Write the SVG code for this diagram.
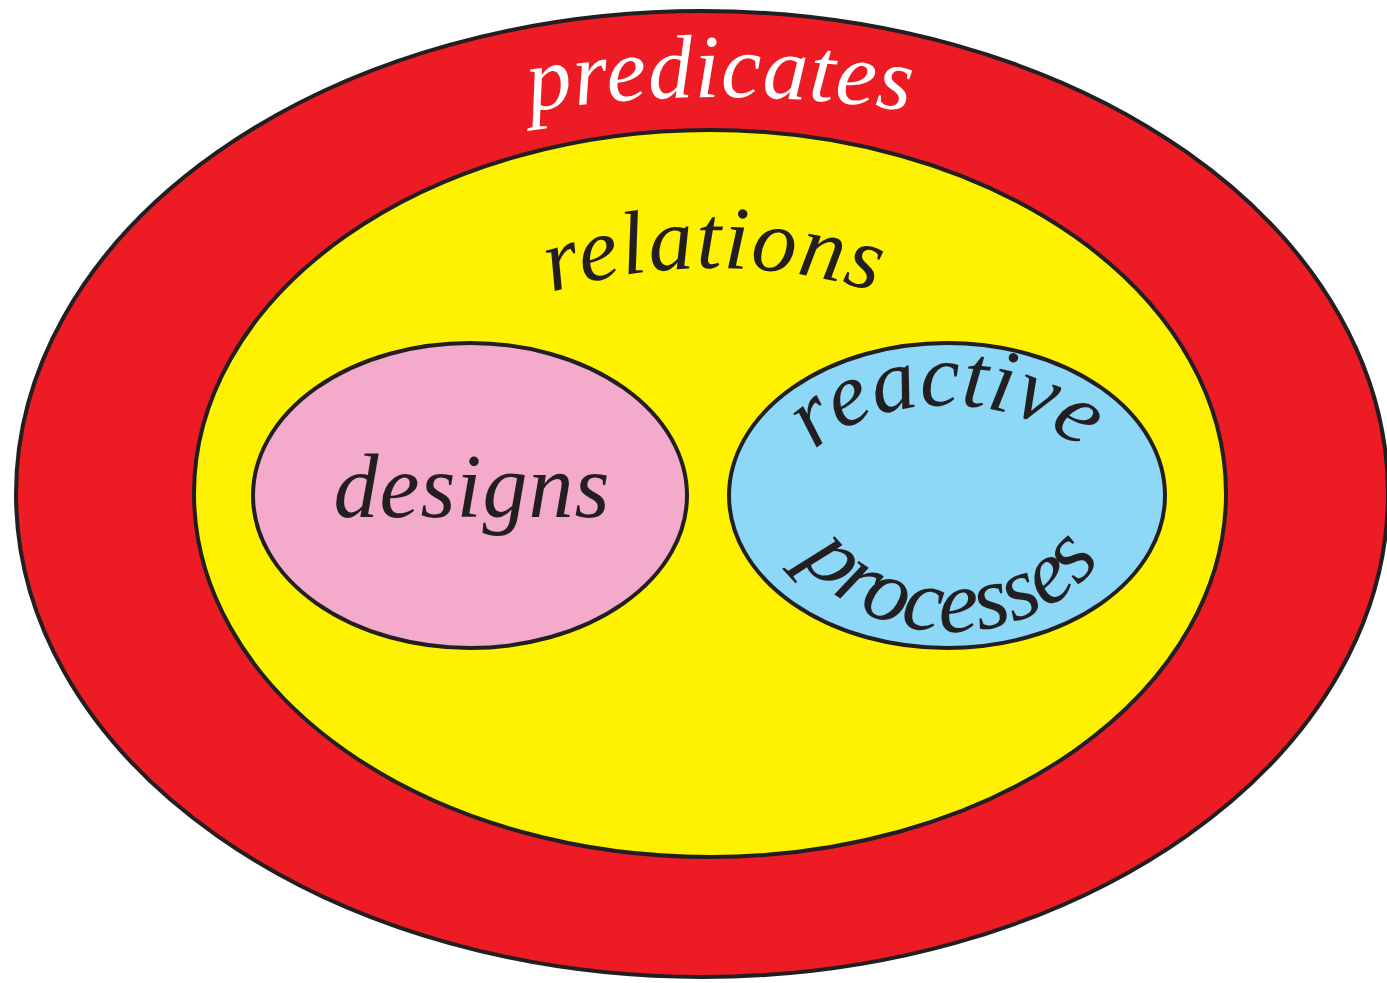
<svg xmlns="http://www.w3.org/2000/svg" width="1387" height="983" viewBox="0 0 1387 983">
  <style>
    .set { stroke: #231f20; stroke-width: 4; }
    .label { font-family: "Liberation Serif", "Times New Roman", serif; font-style: italic; font-size: 90px; fill: #231f20; }
    .light { fill: #ffffff; }
  </style>
  <defs>
    <!-- baselines for the curved labels -->
    <path id="arc-predicates" d="M 500,116.5 A 1250 1250 0 0 1 940,116.5" fill="none"/>
    <path id="arc-relations" d="M 494,313 A 560 560 0 0 1 934,313" fill="none"/>
    <path id="arc-reactive" d="M 794,495.5 A 153 90 0 0 1 1100,495.5" fill="none"/>
    <path id="arc-processes" d="M 783,497 A 168 135 0 0 0 1119,497" fill="none"/>
  </defs>
  <rect width="1387" height="983" fill="#ffffff"/>

  <g id="predicates">
    <ellipse class="set" cx="702" cy="494" rx="686" ry="483" fill="#ed1c24"/>
    <text class="label light" letter-spacing="1"><textPath href="#arc-predicates" startOffset="50%" text-anchor="middle">predicates</textPath></text>
  </g>

  <g id="relations">
    <ellipse class="set" cx="710" cy="493.5" rx="516" ry="363.5" fill="#fff200"/>
    <text class="label" letter-spacing="1.5"><textPath href="#arc-relations" startOffset="50%" text-anchor="middle">relations</textPath></text>
  </g>

  <g id="designs">
    <ellipse class="set" cx="470" cy="495.5" rx="217" ry="152.5" fill="#f4aacb"/>
    <text class="label" x="472" y="517" text-anchor="middle" letter-spacing="1">designs</text>
  </g>

  <g id="reactive-processes">
    <ellipse class="set" cx="947" cy="495.5" rx="218" ry="152.5" fill="#8ed8f7"/>
    <text class="label"><textPath href="#arc-reactive" startOffset="50%" text-anchor="middle">reactive</textPath></text>
    <text class="label"><textPath href="#arc-processes" startOffset="50%" text-anchor="middle">processes</textPath></text>
  </g>

  <g id="connectors"/>
</svg>
